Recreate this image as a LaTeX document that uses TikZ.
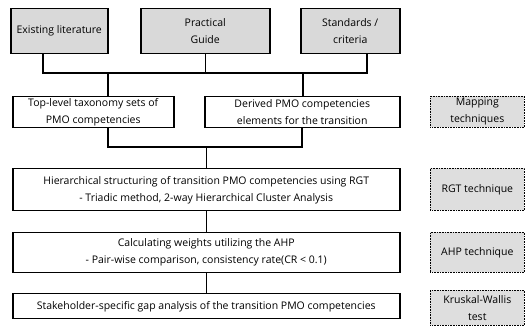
\documentclass[tikz,border=0pt]{standalone}
\usepackage{fontspec}
\setmainfont{Open Sans}
\begin{document}
\begin{tikzpicture}[x=1pt,y=-1pt,
  every node/.style={font=\fontsize{10.5}{17}\selectfont, inner sep=0pt, align=center},
  srcbox/.style={draw=black, line width=1.5pt, fill=srcgray, anchor=north west},
  procbox/.style={draw=black, line width=1.5pt, fill=white, anchor=north west},
  toolbox/.style={draw=black, line width=0.6pt, densely dotted, fill=toolgray, anchor=north west},
  conn/.style={draw=black, line width=1.5pt}]
\definecolor{srcgray}{HTML}{D9D9D9}
\definecolor{toolgray}{HTML}{DEDEDE}
\useasboundingbox (0,0) rectangle (528,328);

% sources
\node[srcbox, minimum width=97pt, minimum height=45pt] (lit) at (10,8) {Existing literature};
\node[srcbox, minimum width=129pt, minimum height=45pt] (guide) at (140,8) {Practical\\Guide};
\node[srcbox, minimum width=99pt, minimum height=45pt] (std) at (300,8) {Standards /\\criteria};

% first processing row
\node[procbox, minimum width=161pt, minimum height=31pt] (tax) at (12,96) {Top-level taxonomy sets of\\PMO competencies};
\node[procbox, minimum width=195pt, minimum height=31pt] (elem) at (204,96) {Derived PMO competencies\\elements for the transition};

% main steps
\node[procbox, minimum width=387pt, minimum height=42pt] (hier) at (12,168) {Hierarchical structuring of transition PMO competencies using RGT\\- Triadic method, 2-way Hierarchical Cluster Analysis};
\node[procbox, minimum width=387pt, minimum height=40pt] (ahp) at (12,232) {Calculating weights utilizing the AHP\\- Pair-wise comparison, consistency rate(CR < 0.1)};
\node[procbox, minimum width=387pt, minimum height=25pt] (gap) at (12,293) {Stakeholder-specific gap analysis of the transition PMO competencies};

% techniques
\node[toolbox, minimum width=94pt, minimum height=31pt] (map) at (430,96) {Mapping\\techniques};
\node[toolbox, minimum width=94pt, minimum height=42pt] (rgt) at (430,168) {RGT technique};
\node[toolbox, minimum width=94pt, minimum height=40pt] (ahpt) at (430,232) {AHP technique};
\node[toolbox, minimum width=94pt, minimum height=35pt] (kw) at (430,290) {Kruskal-Wallis\\test};

% junctions
\coordinate (ja) at (43,73);
\coordinate (jc) at (367,73);
\coordinate (jd) at (108,73);
\coordinate (je) at (303,73);
\coordinate (jf) at (108,147);
\coordinate (jg) at (302,147);

\draw[conn] (ja |- lit.south) -- (ja) -- (jc) -- (jc |- std.south);
\draw[conn] (guide.south) -- (guide.south |- ja);
\draw[conn] (jd) -- (jd |- tax.north);
\draw[conn] (je) -- (je |- elem.north);
\draw[conn] (jf |- tax.south) -- (jf) -- (jg) -- (jg |- elem.south);
\draw[conn] (hier.north |- jf) -- (hier.north);
\draw[conn] (hier.south) -- (ahp.north);
\draw[conn] (ahp.south) -- (gap.north);
\end{tikzpicture}
\end{document}
